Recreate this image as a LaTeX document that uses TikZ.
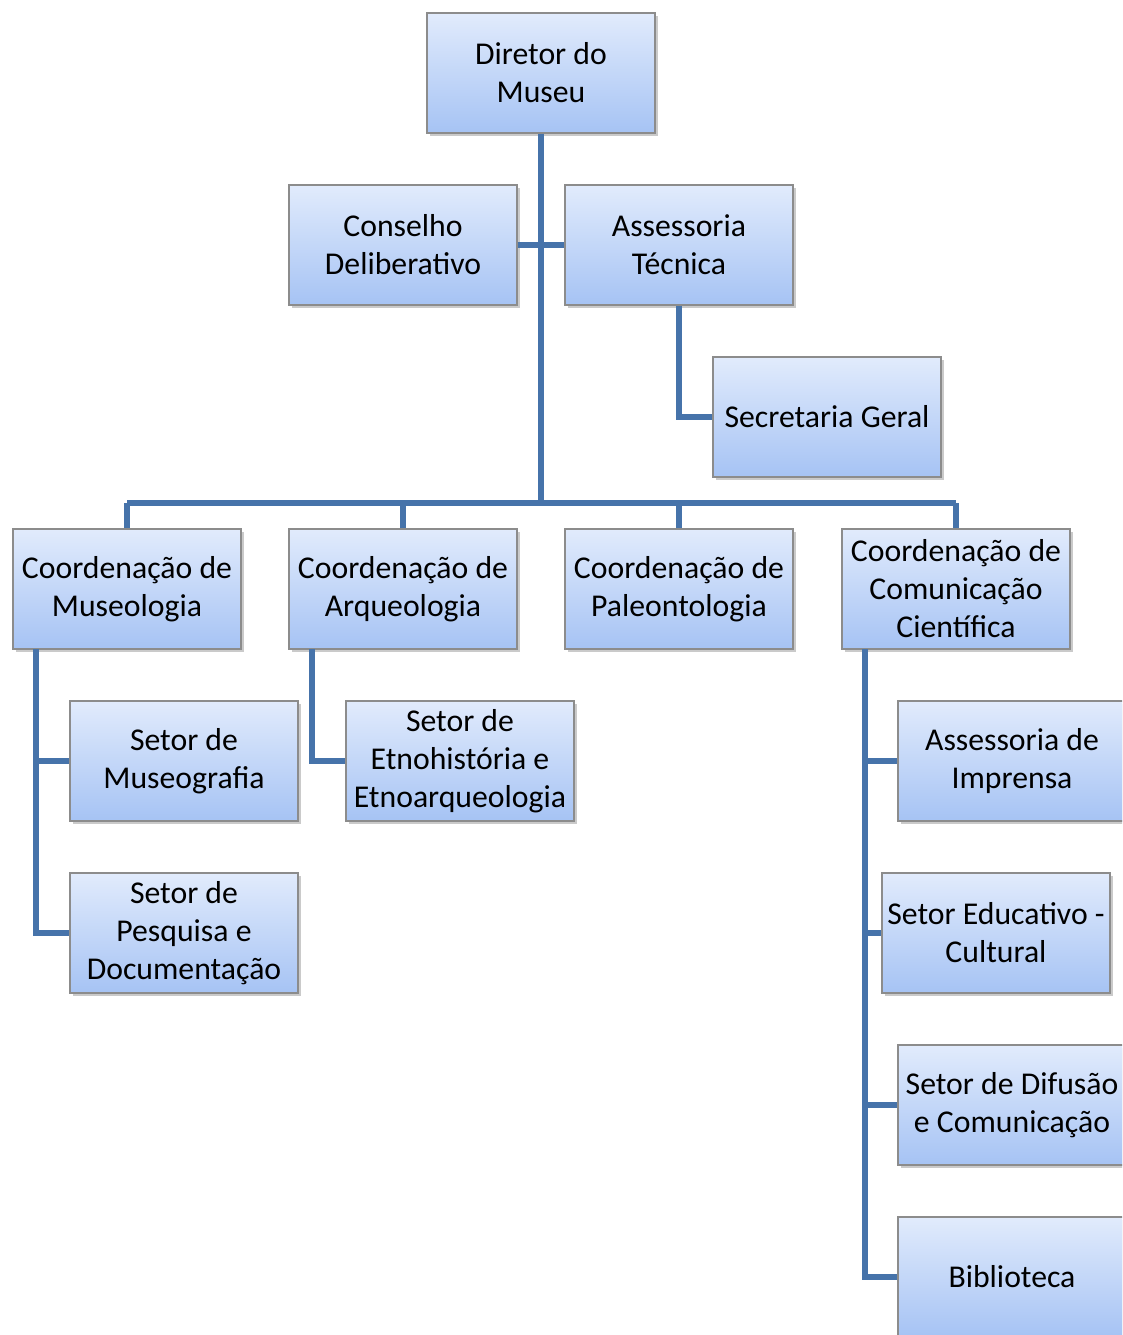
\documentclass[tikz,border=0pt]{standalone}
\usepackage{fontspec}
\setmainfont{Carlito}
\usetikzlibrary{shadows}
\definecolor{linec}{RGB}{70,115,170}
\definecolor{topc}{RGB}{225,235,252}
\definecolor{botc}{RGB}{166,195,244}
\definecolor{borderc}{RGB}{140,140,140}
\tikzset{
  orgbox/.style={draw=borderc, line width=0.8pt, top color=topc, bottom color=botc,
    minimum width=171pt, minimum height=90pt, inner sep=2pt, align=center,
    font=\fontsize{23.8pt}{28.5pt}\selectfont,
    drop shadow={shadow xshift=2pt, shadow yshift=-2.5pt, opacity=0.35, fill=black!60}},
  conn/.style={draw=linec, line width=3.8pt}
}
\begin{document}
\begin{tikzpicture}[x=0.75pt,y=-0.75pt]
\useasboundingbox (0,0) rectangle (1122,1335);
\path[clip] (0,0) rectangle (1122,1335);
\coordinate (bus) at (541,503);
\coordinate (bl) at (127,503);
\coordinate (br) at (956,503);
\node[orgbox] (dir) at (541,73) {Diretor do\\Museu};
\node[orgbox] (cons) at (403,245) {Conselho\\Deliberativo};
\node[orgbox] (asst) at (679,245) {Assessoria\\Técnica};
\node[orgbox] (sec) at (827,417) {Secretaria Geral};
\node[orgbox] (cmus) at (127,589) {Coordenação de\\Museologia};
\node[orgbox] (carq) at (403,589) {Coordenação de\\Arqueologia};
\node[orgbox] (cpal) at (679,589) {Coordenação de\\Paleontologia};
\node[orgbox] (ccom) at (956,589) {Coordenação de\\Comunicação\\Científica};
\node[orgbox] (smus) at (184,761) {Setor de\\Museografia};
\node[orgbox] (spes) at (184,933) {Setor de\\Pesquisa e\\Documentação};
\node[orgbox] (setn) at (460,761) {Setor de\\Etnohistória e\\Etnoarqueologia};
\node[orgbox] (aimp) at (1012,761) {Assessoria de\\Imprensa};
\node[orgbox] (sedu) at (996,933) {Setor Educativo -\\Cultural};
\node[orgbox] (sdif) at (1012,1105) {Setor de Difusão\\e Comunicação};
\node[orgbox] (bib) at (1012,1277) {Biblioteca};
% connectors
\draw[conn] (dir.south) -- (bus);
\draw[conn] (cons.east) -- (asst.west);
\draw[conn] (bl) -- (br);
\draw[conn] (bl) -- (cmus.north);
\draw[conn] (carq.north) -- (carq.north |- bus);
\draw[conn] (cpal.north) -- (cpal.north |- bus);
\draw[conn] (br) -- (ccom.north);
\draw[conn] (asst.south) |- (sec.west);
\coordinate (m0) at (36,649);
\draw[conn] (m0) |- (spes.west);
\draw[conn] (m0 |- smus.west) -- (smus.west);
\coordinate (a0) at (312,649);
\draw[conn] (a0) |- (setn.west);
\coordinate (c0) at (865,649);
\draw[conn] (c0) |- (bib.west);
\draw[conn] (c0 |- aimp.west) -- (aimp.west);
\draw[conn] (c0 |- sedu.west) -- (sedu.west);
\draw[conn] (c0 |- sdif.west) -- (sdif.west);
\end{tikzpicture}
\end{document}
